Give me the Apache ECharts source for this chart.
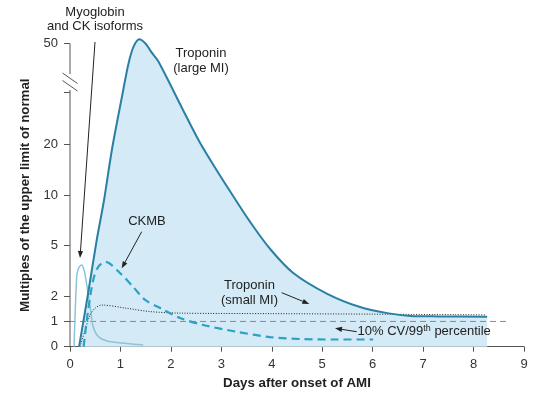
<!DOCTYPE html>
<html>
<head>
<meta charset="utf-8">
<script src="https://cdn.jsdelivr.net/npm/echarts@6/dist/echarts.min.js"></script>
<style>html,body{margin:0;padding:0;background:#fff}#c{width:539px;height:399px}</style>
</head>
<body>
<div id="c"></div>
<script>
// ---- data (days after onset, multiples of upper limit of normal) ----
const tropLargeDays = [0.18, 0.36, 0.53, 0.675, 0.83, 1.03, 1.16, 1.26, 1.375, 1.5, 1.61, 1.75, 2.24, 2.58, 2.917, 3.234, 3.571, 3.968, 4.425, 5.10, 5.75, 6.29, 6.75, 7.3, 8.27];
const tropLargeVals = [0, 2.12, 5.41, 9.36, 18.6, 30.9, 41.8, 48.7, 52.1, 50, 46.4, 42.6, 27.4, 20.3, 13.95, 9.89, 6.93, 4.71, 3.05, 2.09, 1.57, 1.33, 1.22, 1.2, 1.19];
const tropSmallDays = [0.2, 0.3, 0.4, 0.5, 0.63, 1.125, 1.59, 2.18, 3.97, 5.95, 8.23];
const tropSmallVals = [0, 0.66, 1.26, 1.53, 1.65, 1.52, 1.39, 1.33, 1.31, 1.29, 1.26];
const ckmbDays = [0.27, 0.36, 0.46, 0.56, 0.7, 0.99, 1.25, 1.49, 1.79, 2.18, 2.64, 3.31, 3.97, 4.62, 5.30, 6.01];
const ckmbVals = [0, 1.45, 2.68, 3.41, 3.73, 3.05, 2.37, 1.85, 1.53, 1.14, 0.86, 0.59, 0.38, 0.30, 0.285, 0.285];
const myoDays = [0.08, 0.133, 0.17, 0.232, 0.278, 0.317, 0.40, 0.46, 0.56, 0.73, 1.125, 1.45];
const myoVals = [0, 2.85, 3.34, 3.53, 3.22, 2.68, 1.58, 0.79, 0.40, 0.226, 0.127, 0.07];
const cvDays = [0, 8.7];
const cvVals = [1, 1];
const yTickLabels = [0, 1, 2, 5, 10, 20, 50];
const xTickLabels = [0, 1, 2, 3, 4, 5, 6, 7, 8, 9];

// custom (broken, compressed) y scale used by the original figure
function toAxis(v) {
  if (v <= 2) return v;
  if (v <= 5) return 2 + 2 * Math.log(v / 2) / Math.log(2.5);
  if (v <= 10) return 4 + 2 * Math.log2(v / 5);
  if (v <= 20) return 6 + 2 * Math.log2(v / 10);
  return 8 + 4 * Math.log(v / 20) / Math.log(2.5);
}
const pts = (ds, vs) => ds.map((d, i) => [d, toAxis(vs[i])]);
const yTickPos = yTickLabels.map(toAxis);

const FONT = '"Liberation Sans", Arial, Helvetica, sans-serif';
const chart = echarts.init(document.getElementById('c'));

function arrow(x1, y1, x2, y2) {
  const a = Math.atan2(y2 - y1, x2 - x1), L = 7, W = 2.6;
  const bx = x2 - L * Math.cos(a), by = y2 - L * Math.sin(a);
  const nx = -Math.sin(a) * W, ny = Math.cos(a) * W;
  return [
    { type: 'line', shape: { x1, y1, x2: bx, y2: by }, style: { stroke: '#222', lineWidth: 1 }, z: 100 },
    { type: 'polygon', shape: { points: [[x2, y2], [bx + nx, by + ny], [bx - nx, by - ny]] }, style: { fill: '#222' }, z: 100 }
  ];
}
const txt = (x, y, text, extra) => Object.assign({
  type: 'text', x, y, z: 100,
  style: { text, fill: '#222', font: '13px ' + FONT, textAlign: 'center', textVerticalAlign: 'middle' }
}, extra || {});

const AX = '#555';
chart.setOption({
  animation: false,
  grid: { left: 70, right: 15, top: 43.7, bottom: 52.3 },
  xAxis: {
    type: 'value', min: 0, max: 9, interval: 1,
    name: 'Days after onset of AMI', nameLocation: 'middle', nameGap: 30,
    nameTextStyle: { fontFamily: FONT, fontWeight: 'bold', fontSize: 13.3, color: '#222' },
    axisLine: { lineStyle: { color: AX, width: 1 } },
    axisTick: { length: 5, lineStyle: { color: AX } },
    axisLabel: { fontFamily: FONT, fontSize: 13, color: '#333', margin: 11,
      formatter: v => { const i = xTickLabels.indexOf(Math.round(v)); return i >= 0 ? String(xTickLabels[i]) : ''; } },
    splitLine: { show: false }
  },
  yAxis: {
    type: 'value', min: 0, max: 12,
    name: 'Multiples of the upper limit of normal', nameLocation: 'middle', nameGap: 38,
    nameTextStyle: { fontFamily: FONT, fontWeight: 'bold', fontSize: 13.3, color: '#222' },
    axisLine: { show: false },
    axisTick: { show: true, length: 6, lineStyle: { color: AX }, customValues: yTickPos },
    axisLabel: { fontFamily: FONT, fontSize: 13, color: '#333', margin: 12, customValues: yTickPos,
      formatter: v => { for (let i = 0; i < yTickPos.length; i++) if (Math.abs(yTickPos[i] - v) < 1e-6) return String(yTickLabels[i]); return ''; } },
    splitLine: { show: false }
  },
  series: [
    { type: 'line', name: 'fill', data: pts(tropLargeDays, tropLargeVals), smooth: 0.3, showSymbol: false, clip: false, z: 1,
      lineStyle: { width: 0 }, areaStyle: { color: '#d4eaf6', opacity: 1 } },
    { type: 'line', name: 'cv', data: pts(cvDays, cvVals), showSymbol: false, z: 2,
      lineStyle: { color: '#8a8a8a', width: 1, type: [6, 4] } },
    { type: 'line', name: 'myo', data: pts(myoDays, myoVals), smooth: 0.3, showSymbol: false, z: 3,
      lineStyle: { color: '#8cc4dc', width: 1.5 } },
    { type: 'line', name: 'small', data: pts(tropSmallDays, tropSmallVals), smooth: 0.3, showSymbol: false, z: 4,
      lineStyle: { color: '#222', width: 1, type: [1, 1.6] } },
    { type: 'line', name: 'ckmb', data: pts(ckmbDays, ckmbVals), smooth: 0.3, showSymbol: false, z: 5,
      lineStyle: { color: '#2aa2c4', width: 2.2, type: [8, 5] } },
    { type: 'line', name: 'large', data: pts(tropLargeDays, tropLargeVals), smooth: 0.3, showSymbol: false, clip: false, z: 6,
      lineStyle: { color: '#2a7fa3', width: 2 } }
  ],
  graphic: [
    // broken y axis line
    { type: 'line', shape: { x1: 70, y1: 43.7, x2: 70, y2: 74 }, style: { stroke: AX, lineWidth: 1 }, z: 90 },
    { type: 'line', shape: { x1: 70, y1: 90, x2: 70, y2: 346.7 }, style: { stroke: AX, lineWidth: 1 }, z: 90 },
    { type: 'line', shape: { x1: 62.5, y1: 73, x2: 77.5, y2: 83.5 }, style: { stroke: AX, lineWidth: 1 }, z: 90 },
    { type: 'line', shape: { x1: 62.5, y1: 80.5, x2: 77.5, y2: 91 }, style: { stroke: AX, lineWidth: 1 }, z: 90 },
    { type: 'line', shape: { x1: 64, y1: 92.5, x2: 70, y2: 92.5 }, style: { stroke: AX, lineWidth: 1 }, z: 90 },
    // annotations
    txt(95, 12, 'Myoglobin'),
    txt(95, 26, 'and CK isoforms'),
    ...arrow(95, 42, 80, 258),
    txt(201, 53, 'Troponin'),
    txt(201, 68, '(large MI)'),
    txt(147, 221, 'CKMB'),
    ...arrow(141.7, 231.7, 121.7, 268.3),
    txt(249.5, 285, 'Troponin'),
    txt(249.5, 300, '(small MI)'),
    ...arrow(281.7, 292.7, 309.3, 304),
    ...arrow(356.7, 331.7, 335, 328.3),
    { type: 'text', x: 357.5, y: 331.7, z: 100,
      style: { text: '{a|10% CV/99}{b|th}{a| percentile}', textVerticalAlign: 'middle', textAlign: 'left',
        rich: { a: { fontFamily: FONT, fontSize: 13, fill: '#222', color: '#222', lineHeight: 15 },
                b: { fontFamily: FONT, fontSize: 9, fill: '#222', color: '#222', lineHeight: 15, verticalAlign: 'top' } } } }
  ]
});
</script>
</body>
</html>
